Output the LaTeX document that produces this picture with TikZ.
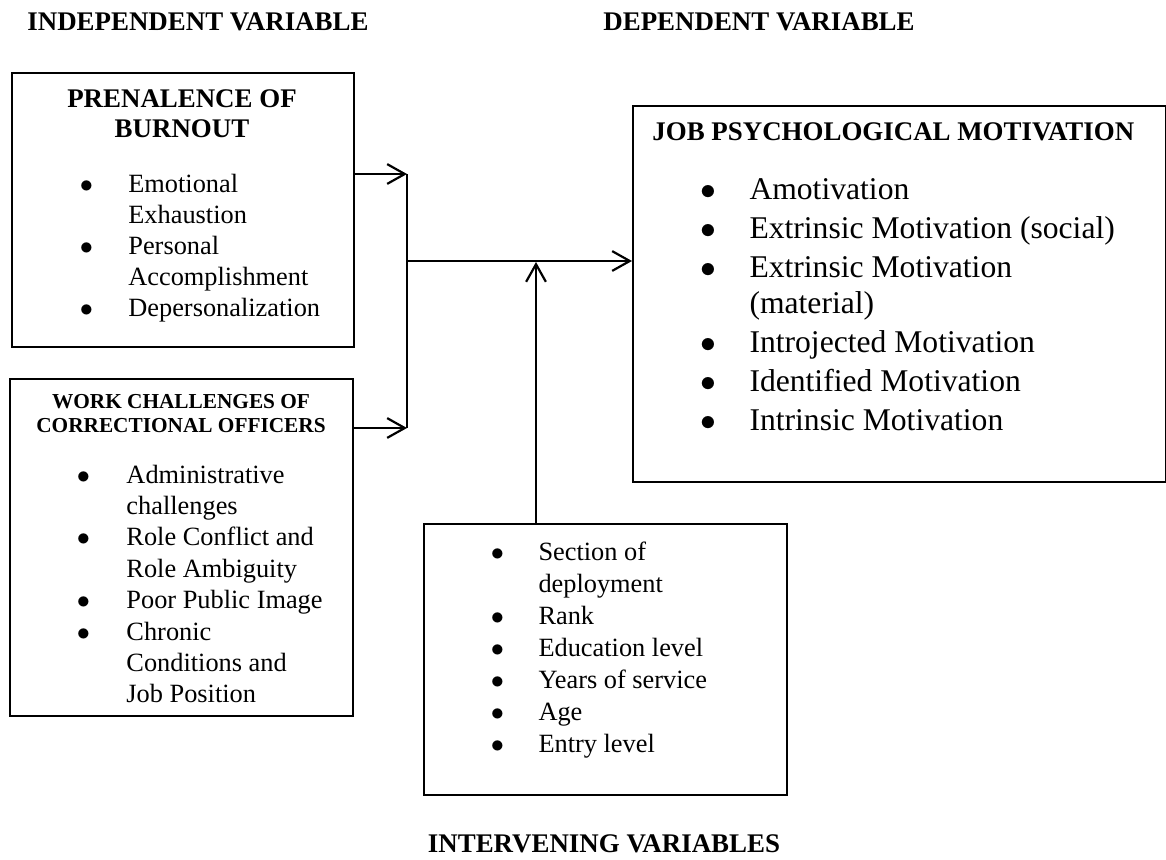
\documentclass[tikz,border=0pt]{standalone}
\usepackage{fontspec}
\setmainfont{Liberation Serif}
\usetikzlibrary{arrows.meta}
\newcommand{\blt}{\makebox[0pt]{$\bullet$}}

\begin{document}
\begin{tikzpicture}[x=0.016cm,y=-0.016cm,
 box/.style={draw,line width=0.75pt,inner sep=0pt,anchor=north west},
 head/.style={font=\bfseries\fontsize{12.25}{14.1}\selectfont,inner sep=0pt},
 list/.style={inner sep=0pt,anchor=base west,font=\fontsize{12}{14.2}\selectfont},
 arr/.style={line width=1pt,-{Straight Barb[length=8pt,width=9pt]}},
 link/.style={line width=0.5pt}]
 \useasboundingbox (0,0) rectangle (1166,859);
 % column titles
 \node[head,anchor=base west] (indep) at (27,30) {INDEPENDENT VARIABLE};
 \node[head,anchor=base west] (dep) at (603,30) {DEPENDENT VARIABLE};
 \node[head,anchor=base] (intv) at (604,852) {INTERVENING VARIABLES};
 % boxes
 \node[box,minimum width=5.472cm,minimum height=4.384cm] (burnout) at (11,72) {};
 \node[box,minimum width=5.488cm,minimum height=5.392cm] (work) at (9,378) {};
 \node[box,minimum width=5.808cm,minimum height=4.336cm] (interv) at (423,523) {};
 \node[box,minimum width=8.528cm,minimum height=6.016cm] (motiv) at (632,105) {};
 % burnout
 \node[head,anchor=base] (burnouthd) at (182,107)
  {\begin{tabular}[t]{@{}c@{}}PRENALENCE OF\\BURNOUT\end{tabular}};
 \node[list] (burnoutls) at (86,192)
  {\begin{tabular}[t]{@{}l@{\hspace{19.1pt}}l@{}}
   \blt & Emotional\\ & Exhaustion\\
   \blt & Personal\\ & Accomplishment\\
   \blt & Depersonalization
  \end{tabular}};
 % work challenges
 \node[head,anchor=base,font=\bfseries\fontsize{9.7}{11}\selectfont] (workhd) at (181,408)
  {\begin{tabular}[t]{@{}c@{}}WORK CHALLENGES OF\\CORRECTIONAL OFFICERS\end{tabular}};
 \node[list,font=\fontsize{12}{14.3}\selectfont] (workls) at (83,483)
  {\begin{tabular}[t]{@{}l@{\hspace{19.6pt}}l@{}}
   \blt & Administrative\\ & challenges\\
   \blt & Role Conflict and\\ & Role Ambiguity\\
   \blt & Poor Public Image\\
   \blt & Chronic\\ & Conditions and\\ & Job Position
  \end{tabular}};
 % intervening
 \node[list,font=\fontsize{12}{14.6}\selectfont] (intervls) at (497,560)
  {\begin{tabular}[t]{@{}l@{\hspace{18.7pt}}l@{}}
   \blt & Section of\\ & deployment\\
   \blt & Rank\\
   \blt & Education level\\
   \blt & Years of service\\
   \blt & Age\\
   \blt & Entry level
  \end{tabular}};
 % motivation
 \node[head,anchor=base west] (motivhd) at (652,140) {JOB PSYCHOLOGICAL MOTIVATION};
 \node[list,font=\fontsize{14.4}{16.4}\selectfont] (motivls) at (708,199)
  {\begin{tabular}[t]{@{}l@{\hspace{18.7pt}}l@{}}
   \blt & Amotivation\\[1.4pt]
   \blt & Extrinsic Motivation (social)\\[1.4pt]
   \blt & Extrinsic Motivation\\ & (material)\\[1.4pt]
   \blt & Introjected Motivation\\[1.4pt]
   \blt & Identified Motivation\\[1.4pt]
   \blt & Intrinsic Motivation
  \end{tabular}};
 % connectors
 \coordinate (jt) at (407,174);
 \coordinate (jb) at (407,428);
 \coordinate (jm) at (407,261);
 \coordinate (ji) at (536,262);
 \draw[arr] (burnout.east |- jt) -- (jt);
 \draw[arr] (work.east |- jb) -- (jb);
 \draw[link] (jt) -- (jb);
 \draw[arr] (jm) -- (motiv.west |- jm);
 \draw[arr] (interv.north -| ji) -- (ji);
\end{tikzpicture}
\end{document}
